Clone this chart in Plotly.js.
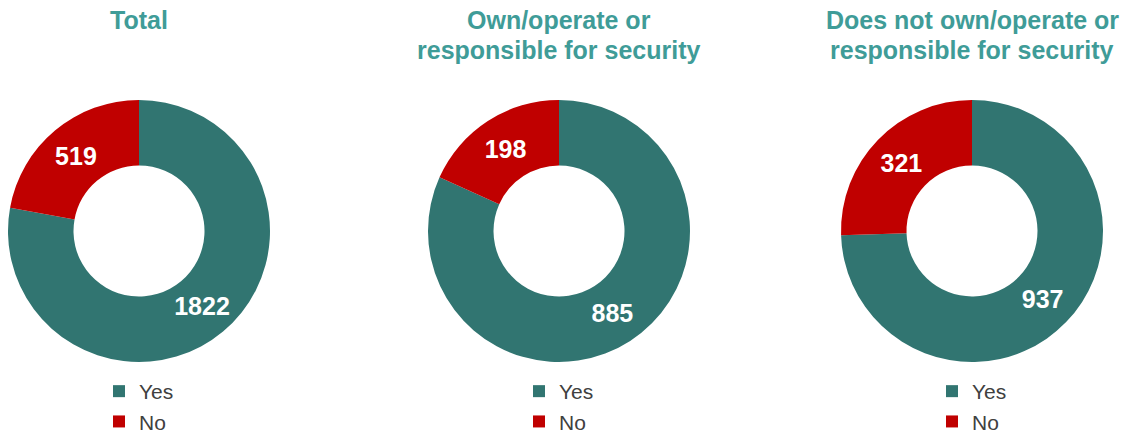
<!DOCTYPE html>
<html>
<head>
<meta charset="utf-8">
<script src="https://cdn.plot.ly/plotly-3.0.1.min.js"></script>
<style>html,body{margin:0;padding:0;background:#fff;}#chart{width:1133px;height:433px;}</style>
</head>
<body>
<div id="chart"></div>
<script>
const categories = ["Yes", "No"];
const groupTitles = [["Total"], ["Own/operate or", "responsible for security"], ["Does not own/operate or", "responsible for security"]];
const totalValues = [1822, 519];
const ownValues = [885, 198];
const notOwnValues = [937, 321];

const seriesValues = [totalValues, ownValues, notOwnValues];
const colors = ["#317571", "#c00000"];
const FONT = "Liberation Sans, Arial, sans-serif";
const W = 1133, H = 433;

// donut geometry (pixels)
const centersX = [139, 559, 972];
const cy = 231, R = 131;

const traces = seriesValues.map((vals, i) => ({
  type: "pie",
  labels: categories,
  values: vals,
  hole: 0.5,
  sort: false,
  direction: "clockwise",
  rotation: 0,
  marker: {colors: colors, line: {width: 0}},
  textinfo: "value",
  textposition: "inside",
  insidetextorientation: "horizontal",
  textfont: {family: FONT, size: 25, color: "#ffffff", weight: "bold"},
  hoverinfo: "label+value",
  showlegend: true,
  legendgroup: "g" + i,
  legend: i === 0 ? "legend" : "legend" + (i + 1),
  domain: {
    x: [(centersX[i] - R) / W, (centersX[i] + R) / W],
    y: [1 - (cy + R) / H, 1 - (cy - R) / H]
  }
}));

const lineY = [20, 50];
const annotations = [];
groupTitles.forEach((lines, i) => {
  lines.forEach((t, k) => {
    annotations.push({
      text: "<b>" + t + "</b>",
      x: centersX[i] / W, y: 1 - lineY[k] / H,
      xref: "paper", yref: "paper",
      xanchor: "center", yanchor: "middle",
      showarrow: false,
      font: {family: FONT, size: 25, color: "#3f9c98"}
    });
  });
});

function legendAt(i) {
  return {
    x: (centersX[i] - 40) / W, y: 1 - 371 / H,
    xanchor: "left", yanchor: "top",
    orientation: "v",
    bgcolor: "rgba(0,0,0,0)",
    font: {family: FONT, size: 21, color: "#404040"},
    tracegroupgap: 0
  };
}

const layout = {
  width: W, height: H,
  margin: {l: 0, r: 0, t: 0, b: 0, autoexpand: false},
  paper_bgcolor: "#ffffff",
  plot_bgcolor: "#ffffff",
  annotations: annotations,
  legend: legendAt(0),
  legend2: legendAt(1),
  legend3: legendAt(2)
};

Plotly.newPlot("chart", traces, layout, {displayModeBar: false, staticPlot: true});
</script>
</body>
</html>
